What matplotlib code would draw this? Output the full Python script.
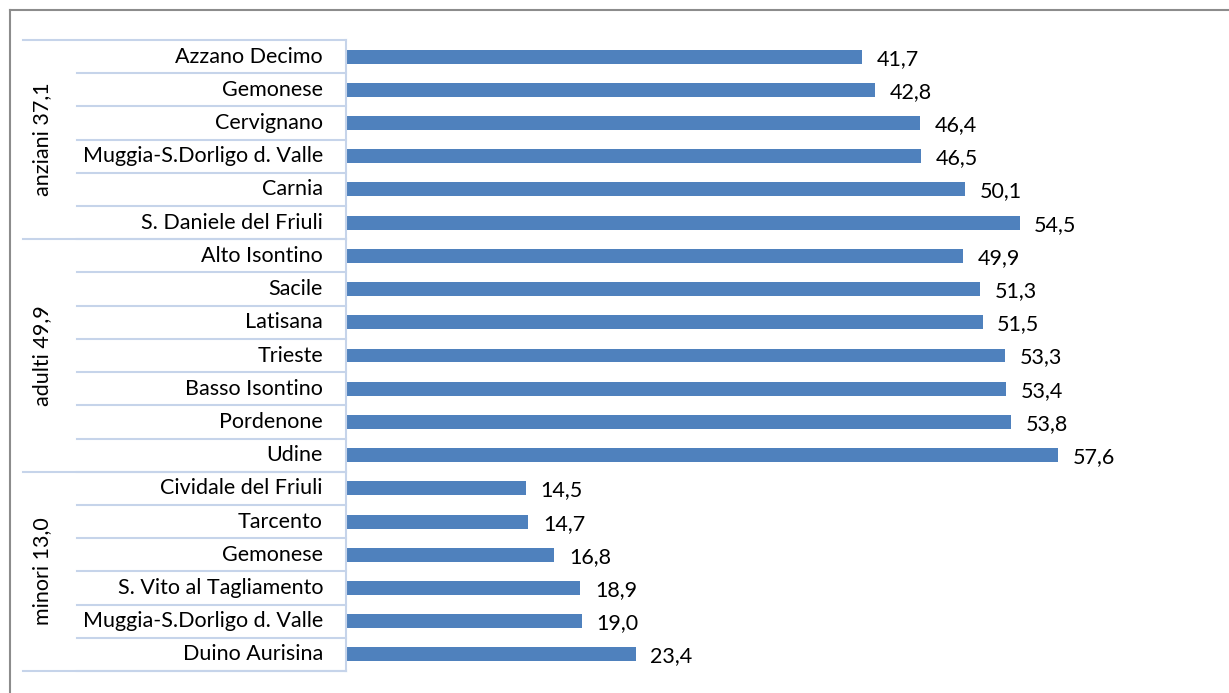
import matplotlib.pyplot as plt
import matplotlib.transforms as mtransforms
from matplotlib.lines import Line2D

plt.rcParams['font.family'] = ['Lato', 'DejaVu Sans']

# dati (dall'alto verso il basso)
gruppi = ['anziani 37,1', 'adulti 49,9', 'minori 13,0']
anziani = ['Azzano Decimo', 'Gemonese', 'Cervignano', 'Muggia-S.Dorligo d. Valle',
           'Carnia', 'S. Daniele del Friuli']
anziani_val = [41.7, 42.8, 46.4, 46.5, 50.1, 54.5]
adulti = ['Alto Isontino', 'Sacile', 'Latisana', 'Trieste', 'Basso Isontino',
          'Pordenone', 'Udine']
adulti_val = [49.9, 51.3, 51.5, 53.3, 53.4, 53.8, 57.6]
minori = ['Cividale del Friuli', 'Tarcento', 'Gemonese', 'S. Vito al Tagliamento',
          'Muggia-S.Dorligo d. Valle', 'Duino Aurisina']
minori_val = [14.5, 14.7, 16.8, 18.9, 19.0, 23.4]

etichette = anziani + adulti + minori
valori = anziani_val + adulti_val + minori_val
dimensioni = [len(anziani), len(adulti), len(minori)]

W, H = 1229, 693
FS = 15.5
fig = plt.figure(figsize=(W / 100, H / 100), dpi=100)
ax = fig.add_axes([347 / W, 1 - 671 / H, (1211 - 347) / W, (671 - 40) / H])

pos = list(range(len(valori)))
ax.barh(pos, valori, height=0.42, color='#4F81BD')
ax.set_xlim(0, 70)
ax.set_ylim(len(valori) - 0.5, -0.5)

for p, v in zip(pos, valori):
    ax.annotate(f'{v:.1f}'.replace('.', ','), (v, p), xytext=(10.5, -1.5),
                textcoords='offset points', ha='left', va='center', fontsize=FS)

for s in ax.spines.values():
    s.set_visible(False)
ax.set_xticks([])
ax.set_yticks([])

# asse delle categorie a due livelli
tr = mtransforms.blended_transform_factory(fig.transFigure, ax.transData)
col = '#C6D4EA'
ax.add_line(Line2D([346 / W, 346 / W], [-0.5, len(valori) - 0.5], transform=tr,
                   color=col, lw=1.5, clip_on=False))
for p, lab in zip(pos, etichette):
    ax.text(323 / W, p, lab, transform=tr, ha='right', va='center', fontsize=FS)
    ax.add_line(Line2D([77 / W, 346 / W], [p + 0.5, p + 0.5], transform=tr,
                       color=col, lw=1.5, clip_on=False))
inizio = -0.5
for g, n in zip(gruppi, dimensioni):
    ax.add_line(Line2D([23 / W, 346 / W], [inizio, inizio], transform=tr,
                       color=col, lw=1.5, clip_on=False))
    ax.text(42 / W, inizio + n / 2, g, transform=tr, rotation=90,
            ha='center', va='center', fontsize=FS)
    inizio += n
ax.add_line(Line2D([23 / W, 346 / W], [inizio, inizio], transform=tr,
                   color=col, lw=1.5, clip_on=False))

# bordo del grafico
fig.add_artist(Line2D([10 / W, 10 / W], [0, 1 - 10 / H], transform=fig.transFigure,
                      color='#8C8C8C', lw=1.5))
fig.add_artist(Line2D([10 / W, 1], [1 - 10 / H, 1 - 10 / H], transform=fig.transFigure,
                      color='#8C8C8C', lw=1.5))

fig.savefig('out.png', dpi=100)
